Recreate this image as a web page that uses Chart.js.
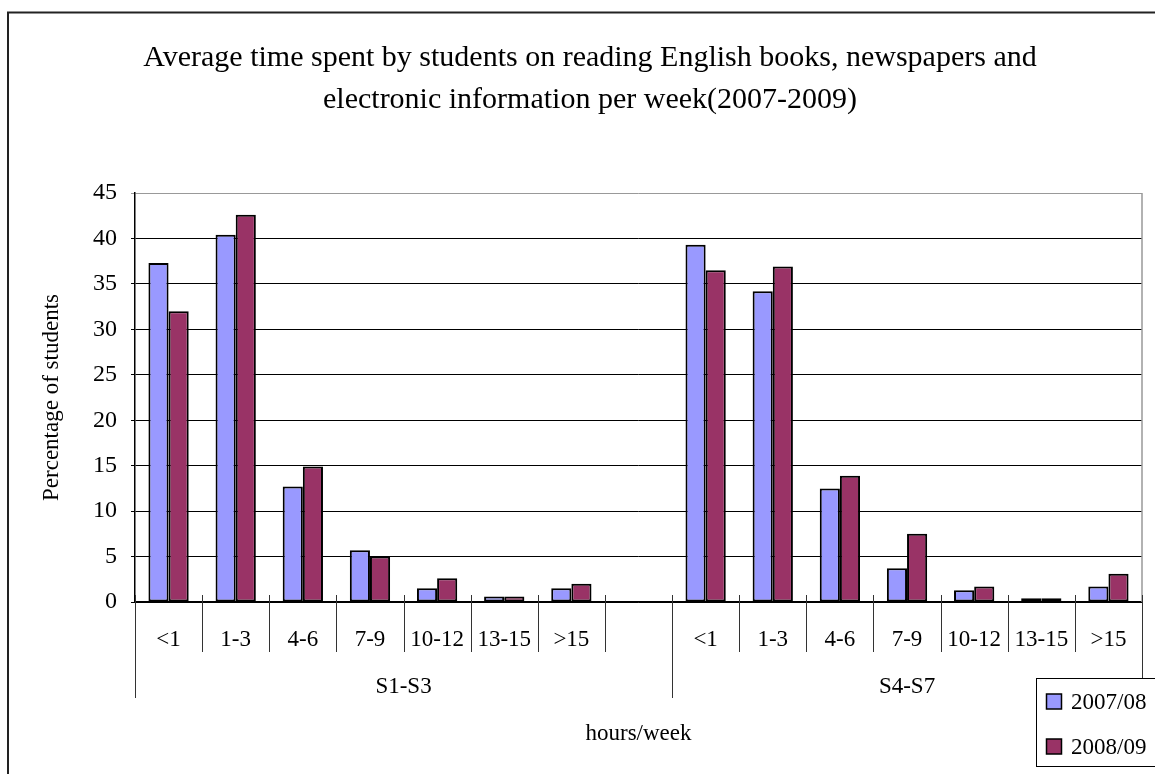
<!DOCTYPE html>
<html lang="en">
<head>
    <meta charset="UTF-8">
    <title>Average time spent reading English per week</title>
    <style>
        body {
            margin: 0;
            background: white;
        }
        canvas {
            display: block;
        }
    </style>
</head>
<body>
    <canvas id="readingChart" width="1155" height="774"></canvas>

    <script src="https://cdn.jsdelivr.net/npm/chart.js"></script>
    <script>
        // hour bands repeat for each level, with one empty slot between the groups
        const hourBands = ['<1', '1-3', '4-6', '7-9', '10-12', '13-15', '>15'];
        const groups = ['S1-S3', 'S4-S7'];
        const years = ['2007/08', '2008/09'];

        const s13_0708 = [37.3, 40.4, 12.7, 5.7, 1.5, 0.6, 1.5];
        const s13_0809 = [32.0, 42.6, 14.9, 5.0, 2.6, 0.6, 2.0];
        const s47_0708 = [39.3, 34.2, 12.5, 3.7, 1.3, 0.4, 1.7];
        const s47_0809 = [36.5, 36.9, 13.9, 7.5, 1.7, 0.4, 3.1];

        const yTicks = [0, 5, 10, 15, 20, 25, 30, 35, 40, 45];

        const labels = [...hourBands, '', ...hourBands];
        const groupSizes = [hourBands.length + 1, hourBands.length];

        const serif = "'Liberation Serif', 'Times New Roman', serif";

        const decor = {
            id: 'decor',
            afterDraw(chart) {
                const ctx = chart.ctx;
                const area = chart.chartArea;
                const x = chart.scales.x;
                const half = (x.getPixelForValue(1) - x.getPixelForValue(0)) / 2;
                const edge = i => x.getPixelForValue(i) - half;

                ctx.save();

                // outer frame (runs off the right and bottom of the picture)
                ctx.strokeStyle = '#222';
                ctx.lineWidth = 2;
                ctx.strokeRect(8, 12.5, 1200, 800);

                // right edge of plot
                ctx.strokeStyle = '#999';
                ctx.lineWidth = 1.5;
                ctx.beginPath();
                ctx.moveTo(area.right, area.top);
                ctx.lineTo(area.right, area.bottom);
                ctx.stroke();

                // category separators
                const groupEdges = [0];
                groupSizes.forEach(n => groupEdges.push(groupEdges[groupEdges.length - 1] + n));
                ctx.strokeStyle = '#333';
                ctx.lineWidth = 1;
                for (let i = 0; i <= labels.length; i++) {
                    const px = Math.round(edge(i)) + 0.5;
                    const long = groupEdges.includes(i);
                    ctx.beginPath();
                    ctx.moveTo(px, area.bottom - 7);
                    ctx.lineTo(px, area.bottom + (long ? 96 : 50));
                    ctx.stroke();
                }

                // category labels
                ctx.fillStyle = '#000';
                ctx.font = '23px ' + serif;
                ctx.textAlign = 'center';
                ctx.textBaseline = 'middle';
                labels.forEach((lab, i) => {
                    if (lab) ctx.fillText(lab, x.getPixelForValue(i), area.bottom + 38);
                });

                // group labels
                groups.forEach((g, k) => {
                    const cx = (edge(groupEdges[k]) + edge(groupEdges[k + 1])) / 2;
                    ctx.fillText(g, cx, area.bottom + 85);
                });

                // legend box
                ctx.fillStyle = '#fff';
                ctx.strokeStyle = '#000';
                ctx.lineWidth = 1;
                ctx.fillRect(1036.5, 678.5, 140, 88);
                ctx.strokeRect(1036.5, 678.5, 140, 88);
                ctx.textAlign = 'left';
                chart.data.datasets.forEach((ds, k) => {
                    const cy = 702 + k * 45;
                    ctx.fillStyle = ds.backgroundColor;
                    ctx.lineWidth = 1.5;
                    ctx.fillRect(1046.5, cy - 8, 15, 15);
                    ctx.strokeRect(1046.5, cy - 8, 15, 15);
                    ctx.fillStyle = '#000';
                    ctx.fillText(ds.label, 1071, cy + 1);
                });

                ctx.restore();
            }
        };

        new Chart(document.getElementById('readingChart'), {
            type: 'bar',
            data: {
                labels: labels,
                datasets: [
                    {
                        label: years[0],
                        data: [...s13_0708, null, ...s47_0708],
                        backgroundColor: '#9999FF',
                        borderColor: '#000',
                        borderWidth: 2,
                        borderSkipped: false
                    },
                    {
                        label: years[1],
                        data: [...s13_0809, null, ...s47_0809],
                        backgroundColor: '#993366',
                        borderColor: '#000',
                        borderWidth: 2,
                        borderSkipped: false
                    }
                ]
            },
            options: {
                responsive: false,
                animation: false,
                devicePixelRatio: 1,
                layout: { padding: { top: 0, left: 38, right: 13, bottom: 0 } },
                datasets: {
                    bar: { categoryPercentage: 0.6, barPercentage: 1.0 }
                },
                plugins: {
                    legend: { display: false },
                    tooltip: { enabled: false },
                    title: {
                        display: true,
                        text: [
                            'Average time spent by students on reading English books, newspapers and',
                            'electronic information per week(2007-2009)'
                        ],
                        color: '#000',
                        font: { family: serif, size: 30, weight: 'normal', lineHeight: 1.4 },
                        padding: { top: 37, bottom: 72 }
                    }
                },
                scales: {
                    x: {
                        ticks: { display: false },
                        grid: { display: false },
                        border: { display: true, color: '#000', width: 1.5 },
                        title: {
                            display: true,
                            text: 'hours/week',
                            color: '#000',
                            font: { family: serif, size: 23 },
                            padding: { top: 0, bottom: 26 }
                        },
                        afterFit: s => { s.height = 172; }
                    },
                    y: {
                        min: 0,
                        max: 45,
                        afterBuildTicks: s => { s.ticks = yTicks.map(v => ({ value: v })); },
                        ticks: {
                            color: '#000',
                            font: { family: serif, size: 24 },
                            padding: 14
                        },
                        grid: {
                            color: c => (c.tick && c.tick.value === 45 ? '#999' : '#000'),
                            lineWidth: 1,
                            tickLength: 4
                        },
                        border: { display: true, color: '#000', width: 1.5 },
                        title: {
                            display: true,
                            text: 'Percentage of students',
                            color: '#000',
                            font: { family: serif, size: 23 },
                            padding: { top: 0, bottom: 0 }
                        },
                        afterFit: s => { s.width = 97; }
                    }
                }
            },
            plugins: [decor]
        });
    </script>
</body>
</html>
